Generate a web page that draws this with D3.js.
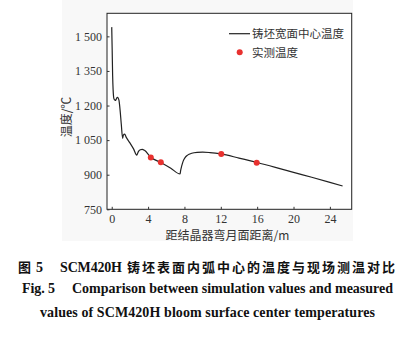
<!DOCTYPE html>
<html><head><meta charset="utf-8">
<script src="https://cdn.jsdelivr.net/npm/d3@7"></script>
<style>body{margin:0;background:#fff}svg{display:block}</style>
</head><body>
<script>
// Simulated surface-center temperature along the strand
const distance = [0, 0.05, 0.1, 0.15, 0.25, 0.4, 0.5, 0.62, 0.72, 0.8, 0.92, 1.05, 1.2, 1.28, 1.42, 1.6, 2.0, 2.4, 2.75, 2.82, 2.95, 3.15, 3.35, 3.6, 4.3, 5.4, 6.5, 7.52, 7.58, 7.7, 7.85, 8.05, 8.35, 8.8, 9.4, 10.0, 10.8, 12.0, 14.0, 16.0, 18.0, 20.0, 22.0, 24.0, 25.4];
const simTemp = [1540, 1440, 1330, 1270, 1228, 1222, 1228, 1236, 1232, 1222, 1180, 1120, 1058, 1072, 1076, 1062, 1038, 1012, 985, 990, 1001, 1008, 1010, 1006, 976, 953, 928, 903, 918, 938, 958, 973, 985, 993, 997, 998, 996, 990, 972, 953, 932, 910, 889, 867, 851];
// Measured temperatures
const measDist = [4.3, 5.4, 12.05, 15.95];
const measTemp = [975, 954, 990, 952];
// Ticks
const xTicks = [0, 4, 8, 12, 16, 20, 24];
const yTicks = [750, 900, 1050, 1200, 1350, 1500];
const yTickLabels = ["750", "900", "1 050", "1 200", "1 350", "1 500"];
const legendLabels = ["铸坯宽面中心温度", "实测温度"];

const W = 409, H = 337;
const svg = d3.select("body").append("svg").attr("width", W).attr("height", H);
const cjk = "'Noto Sans CJK SC', sans-serif";
const serif = "'Liberation Serif', 'Times New Roman', serif";

svg.append("rect").attr("x", 62).attr("y", 0).attr("width", 291).attr("height", 241).attr("fill", "#f8f8f8");

const L = 107, R = 351.7, T = 13.3, B = 209.3;
const x = d3.scaleLinear().domain([-0.52, 26.4]).range([L, R]);
const y = d3.scaleLinear().domain([750, 1600]).range([B, T]);

svg.append("rect").attr("x", L).attr("y", T).attr("width", R - L).attr("height", B - T)
  .attr("fill", "#fff").attr("stroke", "#222").attr("stroke-width", 1);

const xAxis = svg.append("g").attr("transform", `translate(0,${B})`)
  .call(d3.axisBottom(x).tickValues(xTicks).tickSize(-2.5).tickPadding(5).tickFormat(d3.format("d")));
const yAxis = svg.append("g").attr("transform", `translate(${L},0)`)
  .call(d3.axisLeft(y).tickValues(yTicks).tickSize(-2.5).tickPadding(5).tickFormat((d, i) => yTickLabels[i]));
[xAxis, yAxis].forEach(g => {
  g.select(".domain").remove();
  g.selectAll("line").attr("stroke", "#333");
  g.selectAll("text").attr("font-family", serif).attr("font-size", 12).attr("fill", "#333");
});

const pts = distance.map((d, i) => [d, simTemp[i]]);
svg.append("path").datum(pts)
  .attr("d", d3.line().x(d => x(d[0])).y(d => y(d[1])).curve(d3.curveMonotoneX))
  .attr("fill", "none").attr("stroke", "#222").attr("stroke-width", 1.2);

svg.selectAll("circle.m").data(measDist).enter().append("circle")
  .attr("cx", d => x(d)).attr("cy", (d, i) => y(measTemp[i])).attr("r", 3)
  .attr("fill", "#e8312f");

// legend
svg.append("line").attr("x1", 229).attr("x2", 250).attr("y1", 33.7).attr("y2", 33.7)
  .attr("stroke", "#222").attr("stroke-width", 1.2);
svg.append("text").attr("x", 252).attr("y", 38).text(legendLabels[0])
  .attr("font-family", cjk).attr("font-size", 11.5).attr("fill", "#333");
svg.append("circle").attr("cx", 239.7).attr("cy", 52.3).attr("r", 3).attr("fill", "#e8312f");
svg.append("text").attr("x", 252).attr("y", 56.5).text(legendLabels[1])
  .attr("font-family", cjk).attr("font-size", 11.5).attr("fill", "#333");

// axis titles
svg.append("text").attr("transform", "translate(71,117) rotate(-90)").attr("text-anchor", "middle")
  .text("温度/℃").attr("font-family", cjk).attr("font-size", 12).attr("fill", "#333");
svg.append("text").attr("x", 227.5).attr("y", 239.5).attr("text-anchor", "middle")
  .text("距结晶器弯月面距离/m").attr("font-family", cjk).attr("font-size", 12).attr("fill", "#333");

// captions
function cap(xp, yp, str, fam, len, size) {
  const t = svg.append("text").attr("x", xp).attr("y", yp)
    .attr("font-family", fam).attr("font-weight", "bold").attr("font-size", size).attr("fill", "#111")
    .text(str);
  if (len) t.attr("textLength", len).attr("lengthAdjust", "spacing");
  return t;
}
cap(18, 271.5, "图", cjk, null, 13);
cap(36, 271.5, "5", serif, null, 14);
cap(60, 271.5, "SCM420H", serif, 62, 14);
cap(127, 271.5, "铸坯表面内弧中心的温度与现场测温对比", cjk, 268, 13);
cap(22, 292.5, "Fig. 5", serif, 33, 14);
cap(72, 292.5, "Comparison between simulation values and measured", serif, 321, 14);
cap(40, 316.5, "values of SCM420H bloom surface center temperatures", serif, 335, 14);
</script>
</body></html>
